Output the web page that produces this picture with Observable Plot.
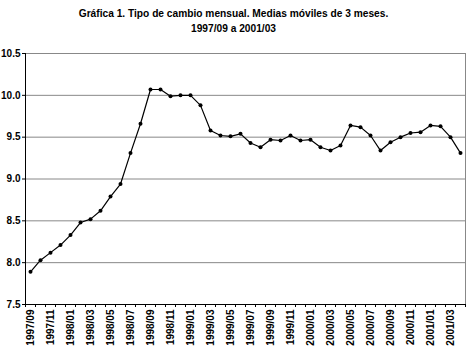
<!DOCTYPE html>
<html><head><meta charset="utf-8">
<script src="https://cdn.jsdelivr.net/npm/d3@7"></script>
<script src="https://cdn.jsdelivr.net/npm/@observablehq/plot@0.6"></script>
<style>
body{margin:0;background:#fff;font-family:"Liberation Sans",Arial,sans-serif;}
#title{height:40px;text-align:center;font-weight:bold;font-size:10.2px;line-height:15px;padding-top:6px;box-sizing:border-box;color:#000;}
#chart svg{display:block;}
</style></head><body>
<div id="title">Gráfica 1. Tipo de cambio mensual. Medias móviles de 3 meses.<br>1997/09 a 2001/03</div>
<div id="chart"></div>
<script>
const months = [
  "1997/09","1997/10","1997/11","1997/12",
  "1998/01","1998/02","1998/03","1998/04","1998/05","1998/06","1998/07","1998/08","1998/09","1998/10","1998/11","1998/12",
  "1999/01","1999/02","1999/03","1999/04","1999/05","1999/06","1999/07","1999/08","1999/09","1999/10","1999/11","1999/12",
  "2000/01","2000/02","2000/03","2000/04","2000/05","2000/06","2000/07","2000/08","2000/09","2000/10","2000/11","2000/12",
  "2001/01","2001/02","2001/03","2001/04"
];
const values = [
  7.89, 8.03, 8.12, 8.21,
  8.33, 8.48, 8.52, 8.62, 8.79, 8.94, 9.31, 9.66, 10.07, 10.07, 9.99, 10.00,
  10.00, 9.88, 9.58, 9.52, 9.51, 9.54, 9.43, 9.38, 9.47, 9.46, 9.52, 9.46,
  9.47, 9.38, 9.34, 9.40, 9.64, 9.62, 9.52, 9.34, 9.44, 9.50, 9.55, 9.56,
  9.64, 9.63, 9.50, 9.31
];
const yTicks = [7.5, 8.0, 8.5, 9.0, 9.5, 10.0, 10.5];

const data = months.map((m, i) => ({i, m, v: values[i]}));
const labelIdx = months.map((m, i) => i).filter(i => i % 2 === 0);
const boundaries = d3.range(0, months.length + 1).map(k => k - 0.5);

const plot = Plot.plot({
  width: 467, height: 311,
  marginTop: 13, marginBottom: 47, marginLeft: 25, marginRight: 2,
  x: {type: "linear", domain: [-0.5, months.length - 0.5]},
  y: {domain: [7.5, 10.5]},
  style: {fontFamily: "Liberation Sans, Arial, sans-serif", fontWeight: "bold", fontSize: "10px", color: "#000", background: "#fff"},
  marks: [
    Plot.gridY(yTicks, {stroke: "#888", strokeOpacity: 1}),
    Plot.ruleX([months.length - 0.5], {stroke: "#888"}),
    Plot.axisY(yTicks, {tickFormat: d => d.toFixed(1), tickSize: 3, tickPadding: 2, label: null, fontWeight: "bold", fontSize: 10}),
    Plot.axisX(boundaries, {tickSize: 3, tickFormat: () => "", label: null}),
    Plot.axisX(labelIdx, {tickSize: 0, tickPadding: 5, tickRotate: -90, tickFormat: i => months[i], label: null, fontWeight: "bold", fontSize: 10}),
    Plot.ruleX([-0.5], {stroke: "#000"}),
    Plot.ruleY([7.5], {stroke: "#000"}),
    Plot.line(data, {x: "i", y: "v", stroke: "#000", strokeWidth: 1.2}),
    Plot.dot(data, {x: "i", y: "v", r: 2, fill: "#000", stroke: "none"})
  ]
});
document.getElementById("chart").appendChild(plot);
</script>
</body></html>
